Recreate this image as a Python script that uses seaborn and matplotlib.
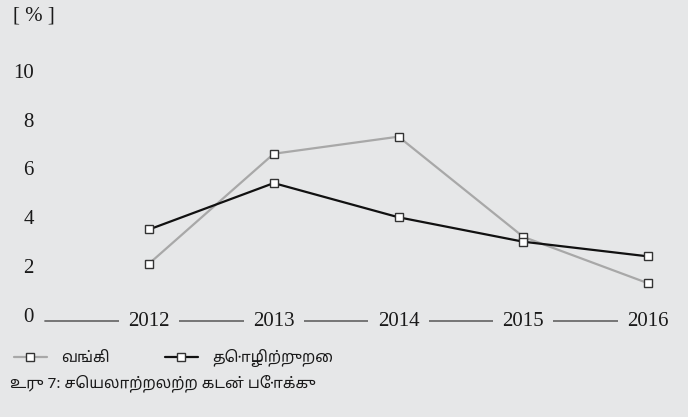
import matplotlib
matplotlib.use("Agg")
import matplotlib.pyplot as plt
import seaborn as sns
import pandas as pd
from matplotlib.lines import Line2D

years = ["2012", "2013", "2014", "2015", "2016"]
bank = [2.1, 6.6, 7.3, 3.2, 1.3]
industry = [3.5, 5.4, 4.0, 3.0, 2.4]
series_names = ["வங்கி", "தொழிற்றுறை"]
yticks = [0, 2, 4, 6, 8, 10]
unit_label = "[ % ]"
caption = "உரு 7: செயலாற்றலற்ற கடன் போக்கு"

BG = "#e6e7e8"
GRAY = "#a8a8a8"
BLACK = "#111111"
TXT = "#1a1a1a"
SERIF = ["Liberation Serif", "DejaVu Serif"]
TAMIL = ["Noto Sans Tamil", "Lohit Tamil", "Latha", "Noto Sans", "DejaVu Sans"]

sns.set_theme(style="white")
plt.rcParams["font.family"] = SERIF

df = pd.DataFrame({
    "x": list(range(len(years))) * 2,
    "value": bank + industry,
    "series": [series_names[0]] * len(years) + [series_names[1]] * len(years),
})

W, H = 688, 417
fig = plt.figure(figsize=(W / 100, H / 100), dpi=100, facecolor=BG)

# axes placement (pixel based)
x0_px, step_px = 149.0, 124.75
left_px, right_px = 45.0, 680.0
xlim = ((left_px - x0_px) / step_px, 4 + (right_px - 648.0) / step_px)
ylim = (-0.6, 10.5)
bottom_px, top_px = 315 + 0.6 * 24.43, 315 - 10.5 * 24.43
ax = fig.add_axes([left_px / W, (H - bottom_px) / H,
                   (right_px - left_px) / W, (bottom_px - top_px) / H])
ax.set_facecolor(BG)

MS = 5.5
sns.lineplot(data=df, x="x", y="value", hue="series", style="series",
             palette={series_names[0]: GRAY, series_names[1]: BLACK},
             markers={series_names[0]: "s", series_names[1]: "s"},
             dashes=False, markersize=MS, markerfacecolor="white",
             markeredgecolor="#333333", markeredgewidth=1.0,
             linewidth=1.6, ax=ax, legend=False, zorder=3)

ax.set_xlim(*xlim)
ax.set_ylim(*ylim)
for s in ax.spines.values():
    s.set_visible(False)
ax.set_xticks([])
ax.set_yticks(yticks)
ax.set_yticklabels([str(v) for v in yticks], fontsize=15, color=TXT,
                   family=SERIF)
ax.tick_params(axis="y", length=0, pad=8)
ax.set_xlabel("")
ax.set_ylabel("")

# x axis line with labels interrupting it
y_axis = -0.245
ax.plot([xlim[0], len(years) - 1], [y_axis, y_axis], color="#6d6d6d",
        lw=1.3, zorder=1, clip_on=False)
for i, yr in enumerate(years):
    ax.text(i, y_axis - 0.03, yr, ha="center", va="center", fontsize=15,
            color=TXT, family=SERIF, zorder=2,
            bbox=dict(boxstyle="square,pad=0.45", fc=BG, ec="none"))

fig.text(13 / W, 1 - 16 / H, unit_label, fontsize=15, color=TXT,
         family=SERIF, ha="left", va="center")

# legend
handles = [
    Line2D([], [], color=GRAY, lw=1.6, marker="s", markersize=MS,
           markerfacecolor="white", markeredgecolor="#333333",
           markeredgewidth=1.0),
    Line2D([], [], color=BLACK, lw=1.6, marker="s", markersize=MS,
           markerfacecolor="white", markeredgecolor="#333333",
           markeredgewidth=1.0),
]
fig.legend(handles, series_names, loc="center left",
           bbox_to_anchor=(14 / W, 1 - 358 / H), ncol=2, frameon=False,
           prop={"family": TAMIL, "size": 11}, handlelength=2.15,
           handletextpad=0.95, columnspacing=3.6, labelcolor=TXT,
           borderaxespad=0, borderpad=0)

fig.text(10 / W, 1 - 383 / H, caption, fontsize=11, color=TXT,
         family=TAMIL, ha="left", va="center")

fig.savefig("out.png", dpi=100, facecolor=BG)
